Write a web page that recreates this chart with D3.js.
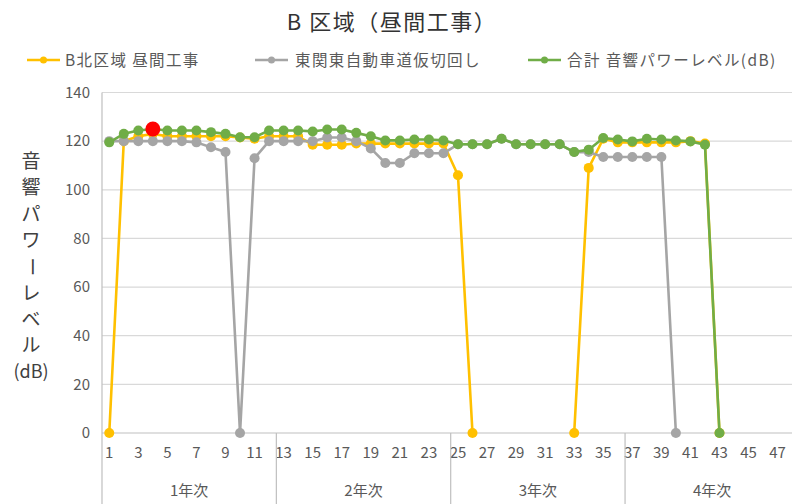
<!DOCTYPE html>
<html>
<head>
<meta charset="utf-8">
<script src="https://cdn.jsdelivr.net/npm/d3@7"></script>
<style>
  html, body { margin: 0; padding: 0; background: #fff; }
  svg { display: block; }
  text { font-family: "Noto Sans CJK JP", "Noto Sans", sans-serif; }
</style>
</head>
<body>
<svg id="chart" width="792" height="504"></svg>
<script>
// Categories: construction months 1..48, grouped by year
const categories = d3.range(1, 49);
const tickLabels = categories.filter(c => c % 2 === 1);
const yearGroups = [
  { label: "1年次", from: 1, to: 12 },
  { label: "2年次", from: 13, to: 24 },
  { label: "3年次", from: 25, to: 36 },
  { label: "4年次", from: 37, to: 48 }
];
const yTicks = [0, 20, 40, 60, 80, 100, 120, 140];

// Sound power level (dB) per month; null = no work that month
const northDaytime = [
  0, 120, 122, 123, 122, 122, 122, 122, 122, 121.5, 121, 122,
  122, 122, 118.5, 118.5, 118.5, 119, 119, 119, 119, 119, 119, 119,
  106, 0, null, null, null, null, null, null, 0, 109, 121, 119.5,
  119.5, 119.5, 119.5, 119.5, 120, 119, 0, null, null, null, null, null
];
const detourRoad = [
  120, 120, 120, 120, 120, 120, 119.5, 117.5, 115.5, 0, 113, 120,
  120, 120, 120, 121.5, 121.5, 120, 117, 111, 111, 115, 115, 115,
  118.7, 118.7, 118.7, 121, 118.7, 118.7, 118.7, 118.7, 115.5, 115.5, 113.5, 113.5,
  113.5, 113.5, 113.5, 0, null, null, null, null, null, null, null, null
];
const totalLevel = [
  119.5, 123, 124.4, 125, 124.4, 124.4, 124.4, 123.7, 123, 121.6, 121.6, 124.4,
  124.4, 124.4, 124, 124.8, 124.8, 123.4, 122, 120.3, 120.3, 120.7, 120.7, 120.3,
  118.7, 118.7, 118.7, 121, 118.7, 118.7, 118.7, 118.7, 115.5, 116.5, 121.3, 120.7,
  119.9, 121, 120.7, 120.3, 119.9, 118.5, 0, null, null, null, null, null
];
// Month with the highest combined level
const peakMonth = 4;

const seriesList = [
  { name: "B北区域 昼間工事", values: northDaytime, color: "#FFC000" },
  { name: "東関東自動車道仮切回し", values: detourRoad, color: "#A5A5A5" },
  { name: "合計 音響パワーレベル(dB)", values: totalLevel, color: "#70AD47" }
];

const svg = d3.select("#chart");
const plot = { left: 102, right: 799.4, top: 92.5, bottom: 433 };

const x = d3.scaleBand().domain(categories).range([plot.left, plot.right]).padding(0);
const cx = c => x(c) + x.bandwidth() / 2;
const y = d3.scaleLinear().domain([0, 140]).range([plot.bottom, plot.top]);

// Title
svg.append("text")
  .attr("x", 392).attr("y", 30)
  .attr("text-anchor", "middle")
  .attr("font-size", 22)
  .attr("letter-spacing", 1.5)
  .attr("fill", "#333")
  .text("B 区域（昼間工事）");

// Legend
const legendX = [{ line: 27, text: 65 }, { line: 255, text: 295 }, { line: 528, text: 567 }];
seriesList.forEach((s, i) => {
  const g = svg.append("g");
  const lx = legendX[i].line;
  g.append("line").attr("x1", lx).attr("x2", lx + 33).attr("y1", 60).attr("y2", 60)
    .attr("stroke", s.color).attr("stroke-width", 2.5);
  g.append("circle").attr("cx", lx + 16.5).attr("cy", 60).attr("r", 3.5).attr("fill", s.color);
  g.append("text").attr("x", legendX[i].text).attr("y", 65.5)
    .attr("font-size", 15.5).attr("letter-spacing", 1.4).attr("fill", "#595959").text(s.name);
});

// Horizontal gridlines
svg.append("g").selectAll("line").data(yTicks).join("line")
  .attr("x1", plot.left).attr("x2", plot.right)
  .attr("y1", d => y(d)).attr("y2", d => y(d))
  .attr("stroke", d => d === 0 ? "#BFBFBF" : "#D9D9D9").attr("stroke-width", 1.2);

// Left frame of the plot area, extending through the category area
svg.append("line").attr("x1", plot.left).attr("x2", plot.left)
  .attr("y1", plot.top).attr("y2", 504).attr("stroke", "#BFBFBF").attr("stroke-width", 1.2);

// Y axis tick labels
const yAxis = d3.axisLeft(y).tickValues(yTicks).tickSize(0).tickPadding(0);
const yg = svg.append("g").attr("transform", `translate(${plot.left - 12},0)`).call(yAxis);
yg.select(".domain").remove();
yg.selectAll("text").attr("font-size", 15).attr("fill", "#595959")
  .attr("font-family", "'Noto Sans CJK JP', sans-serif");

// Y axis title, stacked vertically one character per line
const yTitleChars = ["音", "響", "パ", "ワ", "ー", "レ", "ベ", "ル", "(dB)"];
svg.append("g").selectAll("text").data(yTitleChars).join("text")
  .attr("x", 31).attr("y", (d, i) => 168 + i * 26.3)
  .attr("text-anchor", "middle")
  .attr("font-size", d => d === "(dB)" ? 18 : 19)
  .attr("fill", "#404040")
  .attr("transform", (d, i) => d === "ー" ? `rotate(90,31,${168 + i * 26.3 - 6.5})` : null)
  .text(d => d);

// X axis: month labels
const xAxis = d3.axisBottom(x).tickValues(tickLabels).tickSize(0).tickPadding(0);
const xg = svg.append("g").attr("transform", `translate(0,${plot.bottom + 11})`).call(xAxis);
xg.select(".domain").remove();
xg.selectAll("text").attr("font-size", 15).attr("fill", "#595959").attr("dy", "0.9em");

// Year group separators and labels
yearGroups.forEach(gp => {
  const x1 = x(gp.to) + x.bandwidth();
  svg.append("line").attr("x1", x1).attr("x2", x1)
    .attr("y1", plot.bottom).attr("y2", 504)
    .attr("stroke", "#BFBFBF").attr("stroke-width", 1.2);
  const mid = (x(gp.from) + x1) / 2;
  svg.append("text").attr("x", mid).attr("y", 496)
    .attr("text-anchor", "middle").attr("font-size", 15)
    .attr("fill", "#595959").text(gp.label);
});

// Series lines and markers
const line = d3.line()
  .defined(d => d.v !== null)
  .x(d => cx(d.c))
  .y(d => y(d.v));

seriesList.forEach(s => {
  const pts = categories.map((c, i) => ({ c, v: s.values[i] }));
  svg.append("path").datum(pts)
    .attr("d", line)
    .attr("fill", "none")
    .attr("stroke", s.color)
    .attr("stroke-width", 2.6)
    .attr("stroke-linejoin", "round");
  svg.append("g").selectAll("circle").data(pts.filter(d => d.v !== null)).join("circle")
    .attr("cx", d => cx(d.c)).attr("cy", d => y(d.v)).attr("r", 5)
    .attr("fill", s.color);
});

// Peak marker on the combined level
svg.append("circle")
  .attr("cx", cx(peakMonth))
  .attr("cy", y(totalLevel[peakMonth - 1]))
  .attr("r", 7.5)
  .attr("fill", "#FF0000");
</script>
</body>
</html>
